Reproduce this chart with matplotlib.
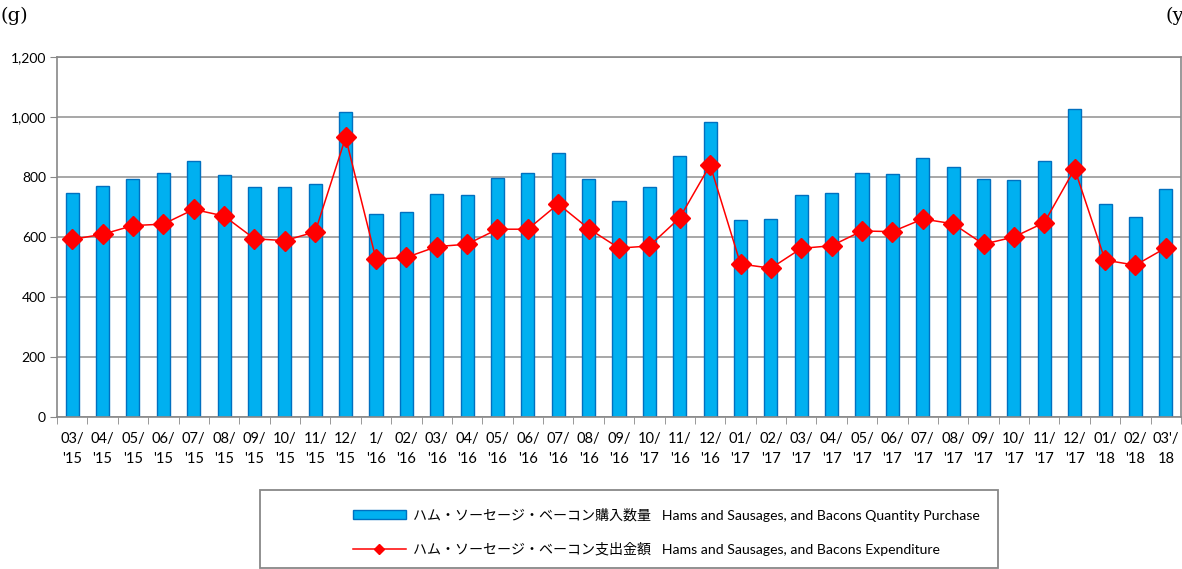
import numpy as np
import matplotlib.pyplot as plt
from matplotlib.patches import Rectangle
from matplotlib.lines import Line2D

plt.rcParams['font.family'] = ['Lato', 'Noto Sans CJK JP', 'DejaVu Sans']

# Data
labels = ["03/\n'15", "04/\n'15", "05/\n'15", "06/\n'15", "07/\n'15", "08/\n'15",
          "09/\n'15", "10/\n'15", "11/\n'15", "12/\n'15", "1/\n'16", "02/\n'16",
          "03/\n'16", "04/\n'16", "05/\n'16", "06/\n'16", "07/\n'16", "08/\n'16",
          "09/\n'16", "10/\n'17", "11/\n'16", "12/\n'16", "01/\n'17", "02/\n'17",
          "03/\n'17", "04/\n'17", "05/\n'17", "06/\n'17", "07/\n'17", "08/\n'17",
          "09/\n'17", "10/\n'17", "11/\n'17", "12/\n'17", "01/\n'18", "02/\n'18",
          "03'/\n18"]
quantity = [748, 770, 792, 815, 855, 806, 768, 767, 778, 1017, 677, 683,
            743, 740, 798, 813, 880, 793, 720, 767, 869, 984, 657, 659,
            741, 748, 812, 809, 864, 833, 792, 789, 853, 1028, 709, 668, 760]
expenditure = [592, 609, 638, 643, 692, 670, 594, 588, 617, 932, 526, 532,
               568, 576, 626, 626, 710, 628, 563, 570, 664, 840, 510, 496,
               562, 571, 620, 618, 660, 644, 576, 600, 648, 827, 523, 506, 564]

bar_label = 'ハム・ソーセージ・ベーコン購入数量   Hams and Sausages, and Bacons Quantity Purchase'
line_label = 'ハム・ソーセージ・ベーコン支出金額   Hams and Sausages, and Bacons Expenditure'

fig = plt.figure(figsize=(11.82, 5.69), dpi=100)
ax = fig.add_axes([57 / 1182, 152 / 569, 1124 / 1182, 360 / 569])

x = np.arange(len(labels))
ax.bar(x, quantity, width=0.43, color='#00B0F0', edgecolor='#0070C0',
       linewidth=1.0, zorder=2)
ax.plot(x, expenditure, color='#FF0000', linewidth=1.1, marker='D',
        markersize=10, markerfacecolor='#FF0000', markeredgecolor='#FF0000',
        zorder=3)

ax.set_xlim(-0.5, len(labels) - 0.5)
ax.set_ylim(0, 1200)
ax.set_yticks(range(0, 1201, 200))
ax.set_yticklabels([f'{v:,}' for v in range(0, 1201, 200)], fontsize=10)
ax.yaxis.grid(True, color='#A0A0A0', linewidth=1.3, zorder=0)
ax.set_axisbelow(True)

ax.set_xticks(x)
ax.set_xticklabels(labels, fontsize=10.5, linespacing=1.55)
ax.set_xticks(np.arange(-0.5, len(labels), 1), minor=True)
ax.tick_params(axis='x', which='major', length=0, pad=11)
ax.tick_params(axis='x', which='minor', length=5, color='#888888', direction='out')
ax.tick_params(axis='y', length=5, color='#888888', direction='out', pad=3)

for side in ['left', 'right', 'top', 'bottom']:
    ax.spines[side].set_color('#888888')
    ax.spines[side].set_linewidth(1.2)

fig.text(0.0, 0.972, '(g)', fontsize=14, family='DejaVu Serif', va='center', ha='left')
fig.text(0.986, 0.972, '(y', fontsize=14, family='DejaVu Serif', va='center', ha='left')

# legend box and entries
fig.patches.append(Rectangle((260 / 1182, 1 / 569), 738 / 1182, 78 / 569,
                             transform=fig.transFigure, fill=False,
                             edgecolor='#888888', linewidth=1.3))
handles = [Rectangle((0, 0), 1, 1, facecolor='#00B0F0', edgecolor='#0070C0'),
           Line2D([0], [0], color='#FF0000', linewidth=1.1, marker='D',
                  markersize=5, markerfacecolor='#FF0000')]
fig.legend(handles, [bar_label, line_label], loc='center left',
           bbox_to_anchor=(340 / 1182, 37 / 569), frameon=False, fontsize=10.1,
           handlelength=3.8, handleheight=0.6, handletextpad=0.5,
           labelspacing=1.45)

fig.savefig('out.png', dpi=100)
